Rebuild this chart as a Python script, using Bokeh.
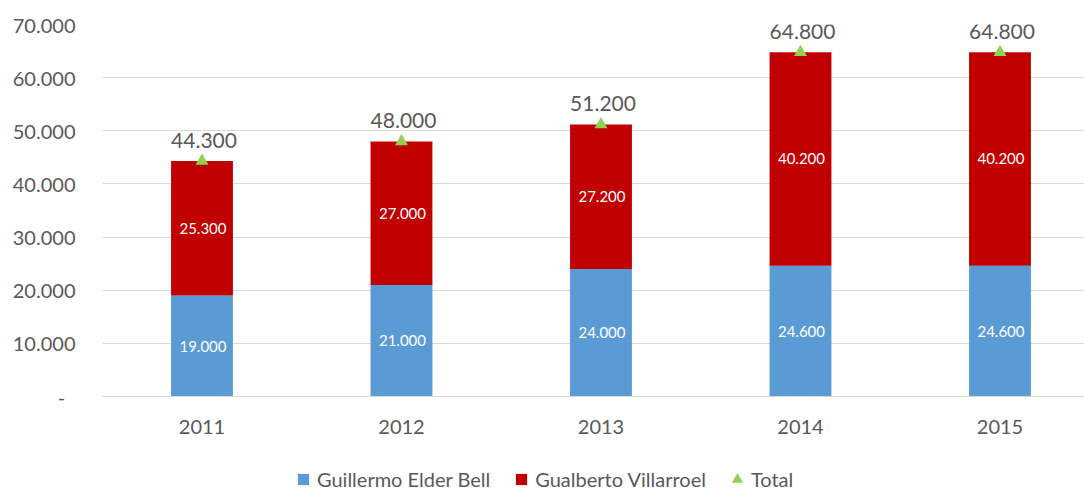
from bokeh.plotting import figure
from bokeh.layouts import column
from bokeh.models import ColumnDataSource, FixedTicker, Legend, LegendItem, Range1d
from bokeh.core.properties import value
from bokeh.embed import file_html
from bokeh.resources import INLINE

# ---- data ----
years = ["2011", "2012", "2013", "2014", "2015"]
guillermo = [19000, 21000, 24000, 24600, 24600]
gualberto = [25300, 27000, 27200, 40200, 40200]
totals = [44300, 48000, 51200, 64800, 64800]
y_ticks = [0, 10000, 20000, 30000, 40000, 50000, 60000, 70000]
y_tick_labels = ["-\u00a0\u00a0", "10.000", "20.000", "30.000", "40.000", "50.000", "60.000", "70.000"]
series_names = ["Guillermo Elder Bell", "Gualberto Villarroel", "Total"]


def fmt(v):
    return f"{v:,}".replace(",", ".")


FONT = "Lato"
GREY = "#595959"
BLUE = "#5b9bd5"
RED = "#c00000"
GREEN = "#92d050"

idx = list(range(len(years)))
src = ColumnDataSource(dict(
    x=idx,
    g=guillermo,
    v=gualberto,
    t=totals,
    g_mid=[a / 2 for a in guillermo],
    v_mid=[a + b / 2 for a, b in zip(guillermo, gualberto)],
    g_lab=[fmt(a) for a in guillermo],
    v_lab=[fmt(a) for a in gualberto],
    t_lab=[fmt(a) for a in totals],
))

p = figure(width=1084, height=448,
           x_range=Range1d(-0.4987, 4.4236), y_range=Range1d(0, 70000),
           output_backend="svg", toolbar_location=None,
           min_border_left=102, min_border_right=0, min_border_top=24, min_border_bottom=52)
p.outline_line_color = None
p.background_fill_color = "white"
p.border_fill_color = "white"

# axes
p.xaxis.ticker = FixedTicker(ticks=idx)
p.xaxis.major_label_overrides = {i: y for i, y in zip(idx, years)}
p.xaxis.axis_line_color = "#d9d9d9"
p.xaxis.major_tick_line_color = None
p.xaxis.minor_tick_line_color = None
p.xaxis.major_label_standoff = 17
p.xaxis.major_label_text_font = FONT
p.xaxis.major_label_text_font_size = "20px"
p.xaxis.major_label_text_color = GREY

p.yaxis.ticker = FixedTicker(ticks=y_ticks)
p.yaxis.major_label_overrides = {t: l for t, l in zip(y_ticks, y_tick_labels)}
p.yaxis.axis_line_color = None
p.yaxis.major_tick_line_color = None
p.yaxis.minor_tick_line_color = None
p.yaxis.major_label_standoff = 21
p.yaxis.major_label_text_font = FONT
p.yaxis.major_label_text_font_size = "20px"
p.yaxis.major_label_text_color = GREY

p.xgrid.grid_line_color = None
p.ygrid.ticker = FixedTicker(ticks=y_ticks)
p.ygrid.grid_line_color = "#d9d9d9"
p.ygrid.grid_line_width = 1

# bars
p.vbar_stack(["g", "v"], x="x", width=0.31, source=src, color=[BLUE, RED], line_color=None)

# markers
p.scatter(x="x", y="t", source=src, marker="triangle", size=13, color=GREEN, line_color=None)

# labels
p.text(x="x", y="g_mid", text="g_lab", source=src, text_color="white",
       text_font=value(FONT), text_font_size="15px", text_align="center",
       text_baseline="middle", x_offset=1)
p.text(x="x", y="v_mid", text="v_lab", source=src, text_color="white",
       text_font=value(FONT), text_font_size="15px", text_align="center",
       text_baseline="middle", x_offset=1)
p.text(x="x", y="t", text="t_lab", source=src, text_color=GREY,
       text_font=value(FONT), text_font_size="21px", text_align="center",
       text_baseline="middle", y_offset=-21, x_offset=2)

# ---- legend strip (separate figure under the chart) ----
p2 = figure(width=1084, height=43, x_range=Range1d(0, 1), y_range=Range1d(0, 1),
            output_backend="svg", toolbar_location=None,
            x_axis_location=None, y_axis_location=None,
            min_border_left=0, min_border_right=0, min_border_top=0, min_border_bottom=0)
p2.outline_line_color = None
p2.grid.visible = False

pb = p2.scatter(x=[0.5], y=[0.5], marker="square", size=10, color=BLUE, line_color=None, visible=False)
pr = p2.scatter(x=[0.5], y=[0.5], marker="square", size=10, color=RED, line_color=None, visible=False)
pt = p2.scatter(x=[0.5], y=[0.5], marker="triangle", size=13, color=GREEN, line_color=None, visible=False)

legend = Legend(items=[LegendItem(label=series_names[0], renderers=[pb]),
                       LegendItem(label=series_names[1], renderers=[pr]),
                       LegendItem(label=series_names[2], renderers=[pt])],
                orientation="horizontal", location=(187, -2),
                border_line_color=None, background_fill_alpha=0,
                padding=0, margin=0, spacing=17, label_standoff=0,
                glyph_width=28, glyph_height=28,
                label_text_font=FONT, label_text_font_size="20px",
                label_text_color=GREY)
p2.add_layout(legend, "center")

layout = column(p, p2, spacing=0)
open("out.html", "w").write(file_html(layout, INLINE))
